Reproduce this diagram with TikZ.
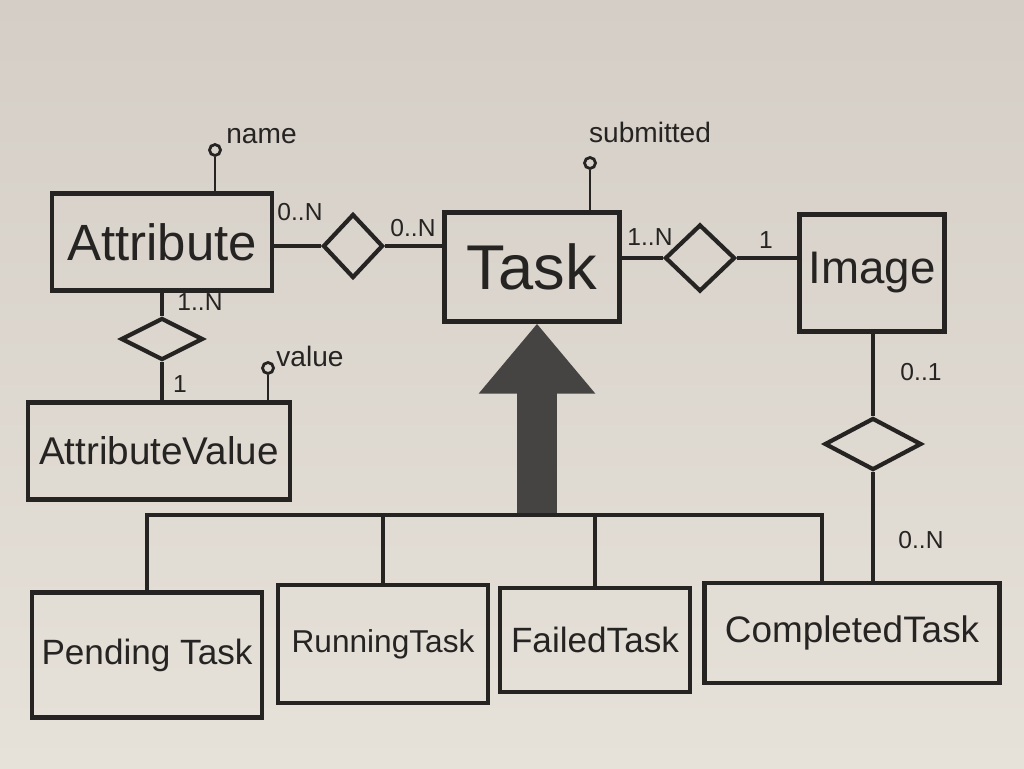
\documentclass[tikz,border=0pt]{standalone}
\usepackage{fontspec}
\setmainfont{Liberation Sans}
\usetikzlibrary{positioning,arrows.meta,shapes.geometric}

\definecolor{ink}{RGB}{38,36,34}
\definecolor{board}{RGB}{230,225,217}
\definecolor{boardtop}{RGB}{212,206,198}
\definecolor{isagray}{RGB}{70,68,66}

\tikzset{
  entity/.style={draw=ink, line width=2.4pt, rectangle, inner sep=0pt, text=ink},
  rel/.style={draw=ink, line width=2.4pt, diamond, inner sep=0pt},
  attrdot/.style={draw=ink, line width=1.6pt, circle, inner sep=0pt, minimum size=0.22cm},
  mult/.style={text=ink, font=\fontsize{14}{14}\selectfont, inner sep=0pt},
  lbl/.style={text=ink, font=\fontsize{16}{16}\selectfont, inner sep=0pt},
  link/.style={draw=ink, line width=2.4pt},
  isa/.style={draw=isagray, line width=0.8cm, -{Triangle[width=2.24cm,length=1.4cm]}},
}

\begin{document}
\begin{tikzpicture}[x=0.02cm, y=-0.02cm]
\fill[top color=boardtop, bottom color=board] (0,0) rectangle (1024,768);
\useasboundingbox (0,0) rectangle (1024,768);

% entities
\node[entity, minimum width=4.4cm, minimum height=1.94cm, font=\fontsize{29}{29}\selectfont] (attr) at (162,242) {Attribute};
\node[entity, minimum width=3.5cm, minimum height=2.18cm, font=\fontsize{36}{36}\selectfont] (task) at (532,267) {Task};
\node[entity, minimum width=2.9cm, minimum height=2.34cm, font=\fontsize{26}{26}\selectfont] (img) at (872,273) {Image};
\node[entity, minimum width=5.24cm, minimum height=1.94cm, font=\fontsize{22}{22}\selectfont] (aval) at (159,451) {AttributeValue};
\node[entity, minimum width=4.6cm, minimum height=2.5cm, font=\fontsize{20}{20}\selectfont] (pend) at (147,655) {Pending Task};
\node[entity, minimum width=4.2cm, minimum height=2.36cm, font=\fontsize{18}{18}\selectfont] (run) at (383,644) {RunningTask};
\node[entity, minimum width=3.8cm, minimum height=2.08cm, font=\fontsize{20}{20}\selectfont] (fail) at (595,640) {FailedTask};
\node[entity, minimum width=5.9cm, minimum height=2.0cm, font=\fontsize{21}{21}\selectfont] (comp) at (852,633) {CompletedTask};

% relationships
\node[rel, minimum width=1.2cm, minimum height=1.28cm] (rAT) at (353,246) {};
\node[rel, minimum width=1.4cm, minimum height=1.34cm] (rTI) at (700,258) {};
\node[rel, minimum width=1.94cm, minimum height=1.04cm] (rIC) at (873,444) {};
\node[rel, minimum width=1.64cm, minimum height=0.84cm] (rAV) at (162,339) {};

\draw[link] (attr.east |- rAT.west) -- (rAT.west);
\draw[link] (rAT.east) -- (rAT.east -| task.west);
\draw[link] (task.east |- rTI.west) -- (rTI.west);
\draw[link] (rTI.east) -- (rTI.east -| img.west);
\draw[link] (img.south -| rIC.north) -- (rIC.north);
\draw[link] (rIC.south) -- (rIC.south |- comp.north);
\draw[link] (attr.south -| rAV.north) -- (rAV.north);
\draw[link] (rAV.south) -- (rAV.south |- aval.north);

% multiplicities
\node[mult] (mAT1) at (300,212) {0..N};
\node[mult] (mAT2) at (413,228) {0..N};
\node[mult] (mTI1) at (650,237) {1..N};
\node[mult] (mTI2) at (766,240) {1};
\node[mult] (mIC1) at (921,372) {0..1};
\node[mult] (mIC2) at (921,540) {0..N};
\node[mult] (mAV1) at (200,302) {1..N};
\node[mult] (mAV2) at (180,384) {1};

% attributes
\node[attrdot] (nameDot) at (215,150) {};
\draw[link, line width=1.6pt] (nameDot) -- (nameDot |- attr.north);
\node[lbl, anchor=west] (nameTxt) at (226,136) {name};

\node[attrdot] (subDot) at (590,163) {};
\draw[link, line width=1.6pt] (subDot) -- (subDot |- task.north);
\node[lbl] (subTxt) at (650,132) {submitted};

\node[attrdot] (valDot) at (268,368) {};
\draw[link, line width=1.6pt] (valDot) -- (valDot |- aval.north);
\node[lbl, anchor=west] (valTxt) at (276,356) {value};

% inheritance
\coordinate (bar) at (537,515);
\draw[isa] (bar) -- (bar |- task.south);
\draw[link] (pend.north) |- (bar) -| ([xshift=-0.6cm]comp.north);
\draw[link] (run.north) -- (run.north |- bar);
\draw[link] (fail.north) -- (fail.north |- bar);
\end{tikzpicture}
\end{document}
